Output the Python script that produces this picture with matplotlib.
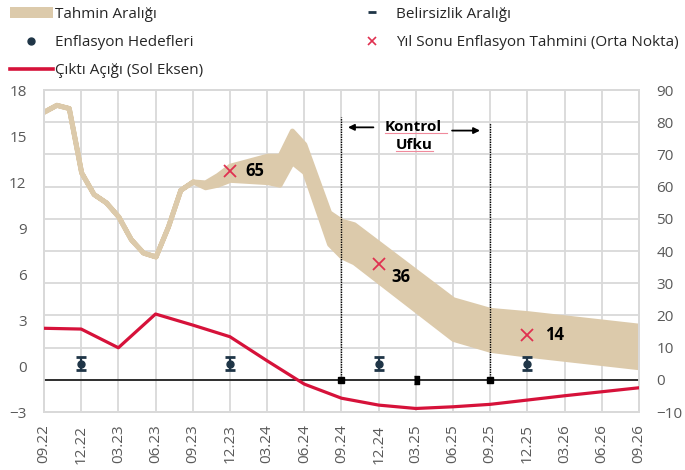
import numpy as np
import matplotlib
matplotlib.use("Agg")
import matplotlib.pyplot as plt
from matplotlib.lines import Line2D
from matplotlib.patches import Patch

plt.rcParams['font.family'] = ['Open Sans', 'DejaVu Sans']

# quarters on the x axis (month index counted from 09.22)
quarters = ["09.22", "12.22", "03.23", "06.23", "09.23", "12.23", "03.24", "06.24",
            "09.24", "12.24", "03.25", "06.25", "09.25", "12.25", "03.26", "06.26", "09.26"]
q_month = [0, 3, 6, 9, 12, 15, 18, 21, 24, 27, 30, 33, 36, 39, 42, 45, 48]

# inflation history + forecast band (right axis)
band_m = [0, 1, 2, 3, 4, 5, 6, 7, 8, 9, 10, 11, 12,
          13, 14, 15, 18, 19, 20, 21, 23, 24, 25, 33, 36, 39, 48]
band_hi = [83.3, 85.4, 84.4, 64.4, 57.7, 55.1, 50.7, 43.7, 39.5, 38.3, 47.6, 59.0, 61.6,
           61.3, 63.6, 66.5, 69.6, 69.6, 77.4, 73.2, 52.0, 49.4, 48.3, 25.0, 21.7, 20.7, 16.8]
band_lo = [83.3, 85.4, 84.4, 64.4, 57.7, 55.1, 50.7, 43.7, 39.5, 38.3, 47.6, 59.0, 61.6,
           59.8, 60.6, 62.1, 61.4, 60.6, 67.6, 64.5, 42.2, 38.3, 36.5, 12.7, 9.3, 7.8, 3.9]

# output gap (left axis)
gap = [2.46, 2.41, 1.19, 3.39, 2.67, 1.91, 0.34, -1.18, -2.1, -2.55, -2.77,
       -2.66, -2.5, -2.22, -1.94, -1.68, -1.42]

# inflation targets with uncertainty band
target_m = [3, 15, 27, 39]
target = [5, 5, 5, 5]
target_err = [2, 2, 2, 2]

# year-end forecasts (mid point)
fc_m = [15, 27, 39]
fc = [65, 36, 14]
fc_off = [(11, 0), (9, -9.5), (13, 0)]

# control horizon
horizon_m = [24, 36]
horizon_top = [81.6, 79.9]

beige = "#dccaab"
red = "#d6123a"
navy = "#1f3547"
grid_c = "#d9d9d9"
tick_c = "#595959"

fig = plt.figure(figsize=(6.85, 4.7), dpi=100)
fig.subplots_adjust(left=0.0642, right=0.9328, bottom=0.1234, top=0.8085)
ax = fig.add_subplot(111)
axl = ax.twinx()

# right (main) axis: band, targets, forecasts
ax.fill_between(band_m, band_lo, band_hi, color=beige, lw=3.6, edgecolor=beige, zorder=2)
ax.axhline(0, color="black", lw=1.1, zorder=3)
ax.errorbar(target_m, target, yerr=target_err, fmt="o", color=navy, ms=5,
            capsize=3.9, capthick=2.0, elinewidth=1.6, zorder=5)
ax.plot(fc_m, fc, "x", color="#e03050", ms=8, mew=1.3, zorder=5)
for m, v, txt, off in zip(fc_m, fc, fc, fc_off):
    ax.annotate(str(txt), (m, v), xytext=off, textcoords="offset points",
                ha="left", va="center", fontsize=12, fontweight="bold", color="black")

# control horizon
for m, top in zip(horizon_m, horizon_top):
    ax.plot([m, m], [0, top], color="black", lw=1.0, ls=(0, (1, 0.8)), zorder=4)
ax.plot(horizon_m, [0, 0], "s", color="black", ms=4.5, zorder=6)
ax.plot([30], [0], marker=[(-0.3, -0.5), (0.3, -0.5), (0.3, 0.5), (-0.3, 0.5)],
        color="black", ms=6, ls="none", zorder=6)
ax.annotate("", xy=(24.3, 78.4), xytext=(26.8, 78.4),
            arrowprops=dict(arrowstyle="-|>", color="black", lw=1.3, mutation_scale=9))
ax.annotate("", xy=(35.4, 77.4), xytext=(32.7, 77.4),
            arrowprops=dict(arrowstyle="-|>", color="black", lw=1.3, mutation_scale=9))
ax.text(29.8, 78.6, "Kontrol", ha="center", va="center", fontsize=11, fontweight="bold")
ax.text(29.9, 72.8, "Ufku", ha="center", va="center", fontsize=11, fontweight="bold")
ax.plot([27.5, 32.5], [76.8, 76.8], color="#f08a9c", lw=0.8)
ax.plot([28.4, 31.4], [71.2, 71.2], color="#f08a9c", lw=0.8)

ax.set_xlim(0, 48)
ax.set_ylim(-10, 90)
ax.set_yticks(np.arange(-10, 91, 10))
ax.set_xticks(q_month)
ax.set_xticklabels(quarters, rotation=90)
ax.yaxis.tick_right()
ax.grid(True, color=grid_c, lw=1.3)
ax.set_axisbelow(True)
ax.tick_params(axis="both", length=0, labelsize=11, labelcolor=tick_c)
ax.tick_params(axis="x", pad=9)
ax.tick_params(axis="y", pad=12.5)

# left axis: output gap
axl.plot(q_month, gap, color=red, lw=2.3, zorder=5)
axl.set_ylim(-3, 18)
axl.set_yticks(np.arange(-3, 19, 3))
axl.yaxis.tick_left()
axl.tick_params(axis="y", length=0, labelsize=11, labelcolor=tick_c, pad=12.5)

for a in (ax, axl):
    for s in a.spines.values():
        s.set_color(grid_c)
        s.set_linewidth(1.3)

# legend
h1 = [Patch(facecolor=beige, edgecolor="none"),
      Line2D([], [], marker="o", color=navy, ls="none", ms=5),
      Line2D([], [], color=red, lw=2.6)]
l1 = ["Tahmin Aralığı", "Enflasyon Hedefleri", "Çıktı Açığı (Sol Eksen)"]
h2 = [Line2D([], [], marker="_", color=navy, ls="none", ms=6, mew=2),
      Line2D([], [], marker="x", color="#e03050", ls="none", ms=6, mew=1.2)]
l2 = ["Belirsizlik Aralığı", "Yıl Sonu Enflasyon Tahmini (Orta Nokta)"]
fig.legend(h1, l1, loc="upper left", bbox_to_anchor=(10 / 685, 1 - 6.5 / 470),
           frameon=False, fontsize=11, handlelength=2.8, handletextpad=0.13,
           labelspacing=0.88, borderpad=0, borderaxespad=0, labelcolor="#262626")
fig.legend(h2, l2, loc="upper left", bbox_to_anchor=(361 / 685, 1 - 6.5 / 470),
           frameon=False, fontsize=11, handlelength=1.4, handletextpad=0.87,
           labelspacing=0.88, borderpad=0, borderaxespad=0, labelcolor="#262626")

fig.savefig("out.png", dpi=100)
